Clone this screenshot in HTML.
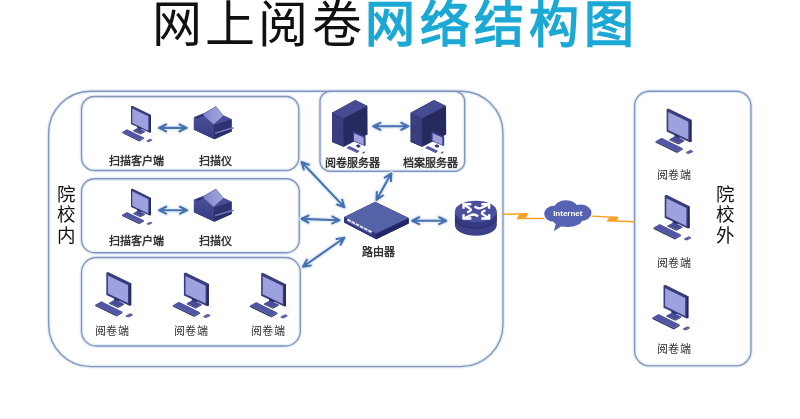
<!DOCTYPE html>
<html lang="zh-CN">
<head>
<meta charset="utf-8">
<style>
html,body{margin:0;padding:0;background:#fff;}
body{width:800px;height:419px;overflow:hidden;position:relative;font-family:"Liberation Sans",sans-serif;}
svg{position:absolute;left:0;top:0;}
.t{position:absolute;white-space:nowrap;line-height:1;color:#333;will-change:transform;}
.lbl{font-size:11px;color:#333;letter-spacing:0px;font-weight:700;}
.big{font-size:18.5px;line-height:20.3px;color:#111;}
</style>
</head>
<body>
<div class="t" id="t1" style="left:152px;top:0px;font-size:50px;font-weight:300;color:#111;letter-spacing:3.2px;">网上阅卷</div>
<div class="t" id="t2" style="left:365px;top:0px;font-size:50px;font-weight:700;color:#1ba8d4;letter-spacing:4.7px;">网络结构图</div>

<svg width="800" height="419" viewBox="0 0 800 419">
<defs>
  <!-- PC icon, local origin = keyboard left / monitor top region -->
  <g id="pc">
    <path d="M35.5,37 C40,36.5 42.5,38.5 40.5,42 C39.5,43.8 38,44.8 36,45.6" fill="none" stroke="#ebebf1" stroke-width="1"/>
    <path d="M11.6,4.2 L13.3,3.4 L36.5,14.8 L36.5,36.4 L34.8,37.2 L11.6,26.4 Z" fill="#393d7e"/>
    <path d="M34.8,15.6 L36.5,14.8 L36.5,36.4 L34.8,37.2 Z" fill="#25285f"/>
    <path d="M13.2,6.9 L33.3,16.7 L33.3,34.6 L13.2,24.9 Z" fill="#9da2de"/>
    <path d="M19.5,29 L24.5,31.4 L24.5,35 L19.5,32.6 Z" fill="#282b66"/>
    <path d="M14.4,34.2 L20.4,31 L29.3,35.2 L23.5,38.4 Z" fill="#474c98"/>
    <path d="M14.4,34.2 L23.5,38.4 L23.5,39.4 L14.4,35.2 Z" fill="#2a2d68"/>
    <path d="M23.5,38.4 L29.3,35.2 L29.3,36.2 L23.5,39.4 Z" fill="#2a2d68"/>
    <path d="M0.5,36.2 L6.6,32.7 L27.8,43.2 L22,46.6 Z" fill="#5056a3"/>
    <path d="M0.5,36.2 L22,46.6 L22,48 L0.5,37.6 Z" fill="#2c2f6c"/>
    <path d="M22,46.6 L27.8,43.2 L27.8,44.6 L22,48 Z" fill="#383c80"/>
    <path d="M31.1,47 L35.6,44.8 L38,46 L33.5,48.2 Z" fill="#575da8"/>
    <path d="M31.1,47 L33.5,48.2 L33.5,49.1 L31.1,47.9 Z" fill="#2c2f6c"/>
    <path d="M33.5,48.2 L38,46 L38,46.9 L33.5,49.1 Z" fill="#383c80"/>
  </g>

  <!-- scanner icon, local origin = (192,102) -->
  <g id="scan">
    <path d="M1.9,15.3 L12.4,11 L23.9,4.3 L31.5,13.4 L39.6,17.2 L39.6,29.6 L22.4,37.2 L1.9,27.7 Z" fill="#2f3270"/>
    <path d="M1.9,15.3 L21.9,22.9 L22.4,37.2 L1.9,27.7 Z" fill="url(#lfg)"/>
    <path d="M21.9,22.9 L39.6,17.2 L39.6,29.6 L22.4,37.2 Z" fill="#2f3270"/>
    <path d="M23,30.6 L39.8,25.2 L41.8,25.4 L41.8,26.4 L23,32.1 Z" fill="#7176bb"/>
    <path d="M23,33 L39.6,27.6 L39.6,28.6 L23,34.1 Z" fill="#24275e"/>
    <path d="M1.9,15.3 L12.4,11 L31.5,13.4 L39.6,17.2 L21.9,22.9 Z" fill="#4a4e98"/>
    <path d="M10.5,12.6 L23.9,4.6 L31.3,13.5 L21.6,22.3 Z" fill="url(#lidg)"/>
    <path d="M3.8,15.6 L10.8,12.7 L12.2,13.5 L5.2,16.3 Z" fill="#23265c"/>
  </g>
  <linearGradient id="lidg" x1="0" y1="0" x2="1" y2="0">
    <stop offset="0" stop-color="#7a7fc6"/><stop offset="0.4" stop-color="#9094d4"/><stop offset="1" stop-color="#a0a4de"/>
  </linearGradient>
  <linearGradient id="lfg" x1="0" y1="0" x2="0" y2="1">
    <stop offset="0" stop-color="#4a4e96"/><stop offset="1" stop-color="#363a80"/>
  </linearGradient>

  <!-- server tower, local origin = (328,96) -->
  <g id="srv">
    <path d="M4,16.7 L27.4,4 L39.4,10 L39.6,38.6 L16,50.8 L4,46.1 Z" fill="#272a5e"/>
    <path d="M4,16.7 L15.4,22.3 L15.6,50.9 L4,46.1 Z" fill="#383c7c"/>
    <path d="M4,16.7 L27.4,4 L39.4,10 L15.4,22.3 Z" fill="#474b92"/>
    <g stroke="#454a8c" stroke-width="0.6">
      <path d="M4.6,21.5 L14.8,26.6"/><path d="M4.6,24 L14.8,29.1"/><path d="M4.6,26.5 L14.8,31.6"/><path d="M4.6,36.5 L14.8,41.6"/><path d="M4.6,40 L14.8,45.1"/>
    </g>
    <!-- small monitor -->
    <path d="M24.6,35.4 L25.6,34.9 L37.6,40.4 L37.6,49.6 L36.8,50 L24.6,45 Z" fill="#363b88"/>
    <path d="M26,37.2 L35.7,41.5 L35.7,49 L26,44.7 Z" fill="#9ea2dc"/>
    <path d="M28.3,49.2 L30.2,48.3 L32.4,49.4 L32.4,50.9 L30.4,51.8 L28.3,50.8 Z" fill="#34387c"/>
    <path d="M18.9,51.5 L21.4,50 L31.7,55 L29.6,56.5 Z" fill="#5258ab"/>
    <path d="M18.9,51.5 L29.6,56.5 L29.6,57.3 L18.9,52.3 Z" fill="#2c3074"/>
    <path d="M34.3,56.6 L36.3,55.4 L37.6,56 L35.6,57.2 Z" fill="#4a4fa2"/>
    <path d="M34.3,56.6 L35.6,57.2 L35.6,57.8 L34.3,57.2 Z" fill="#2c3074"/>
  </g>
</defs>

<!-- Outer box 校内 -->
<g fill="none" stroke="#e6eff9" stroke-width="4"><rect x="48.6" y="91.2" width="454.4" height="275.4" rx="42"/><rect x="81.5" y="96.5" width="217.3" height="74" rx="13"/><rect x="81.5" y="178.7" width="217.8" height="74" rx="13"/><rect x="81.5" y="257.5" width="218.8" height="88.5" rx="15"/><rect x="320" y="91.3" width="144.7" height="79.9" rx="10"/><rect x="634.6" y="91.2" width="116.4" height="274.6" rx="15"/></g>
<g fill="none" stroke="#8495bb" stroke-width="1.35"><rect x="48.6" y="91.2" width="454.4" height="275.4" rx="42"/><rect x="81.5" y="96.5" width="217.3" height="74" rx="13"/><rect x="81.5" y="178.7" width="217.8" height="74" rx="13"/><rect x="81.5" y="257.5" width="218.8" height="88.5" rx="15"/><rect x="320" y="91.3" width="144.7" height="79.9" rx="10"/><rect x="634.6" y="91.2" width="116.4" height="274.6" rx="15"/></g>
<!-- arrows -->
<g stroke="#dce9f6" stroke-width="5" fill="none" stroke-linecap="round" stroke-linejoin="round" opacity="0.8"><path d="M160.2,127.9 L185.4,127.9 M179.6,124.5 L186.6,127.9 L179.6,131.3 M166.0,131.3 L159.0,127.9 L166.0,124.5"/><path d="M160.4,210.2 L185.8,210.2 M180.0,206.8 L187.0,210.2 L180.0,213.6 M166.2,213.6 L159.2,210.2 L166.2,206.8"/><path d="M374.5,126.3 L407.1,126.3 M401.3,122.9 L408.3,126.3 L401.3,129.7 M380.3,129.7 L373.3,126.3 L380.3,122.9"/><path d="M302.6,218.9 L338.2,220.2 M332.5,216.6 L339.4,220.3 L332.3,223.4 M308.3,222.5 L301.4,218.8 L308.5,215.7"/><path d="M413.4,220.7 L445.0,220.7 M439.2,217.3 L446.2,220.7 L439.2,224.1 M419.2,224.1 L412.2,220.7 L419.2,217.3"/><path d="M302.3,162.8 L343.6,206.4 M342.1,199.8 L344.4,207.3 L337.1,204.5 M303.8,169.4 L301.5,161.9 L308.8,164.7"/><path d="M304.0,266.0 L343.4,238.5 M336.7,239.0 L344.4,237.8 L340.6,244.6 M310.7,265.5 L303.0,266.7 L306.8,259.9"/><path d="M390.7,174.3 L377.1,198.9 M382.9,195.5 L376.5,199.9 L376.9,192.1 M384.9,177.7 L391.3,173.3 L390.9,181.1"/></g>
<g stroke="#4571b0" stroke-width="2.1" fill="none" stroke-linecap="round" stroke-linejoin="round"><path d="M160.2,127.9 L185.4,127.9 M179.6,124.5 L186.6,127.9 L179.6,131.3 M166.0,131.3 L159.0,127.9 L166.0,124.5"/><path d="M160.4,210.2 L185.8,210.2 M180.0,206.8 L187.0,210.2 L180.0,213.6 M166.2,213.6 L159.2,210.2 L166.2,206.8"/><path d="M374.5,126.3 L407.1,126.3 M401.3,122.9 L408.3,126.3 L401.3,129.7 M380.3,129.7 L373.3,126.3 L380.3,122.9"/><path d="M302.6,218.9 L338.2,220.2 M332.5,216.6 L339.4,220.3 L332.3,223.4 M308.3,222.5 L301.4,218.8 L308.5,215.7"/><path d="M413.4,220.7 L445.0,220.7 M439.2,217.3 L446.2,220.7 L439.2,224.1 M419.2,224.1 L412.2,220.7 L419.2,217.3"/><path d="M302.3,162.8 L343.6,206.4 M342.1,199.8 L344.4,207.3 L337.1,204.5 M303.8,169.4 L301.5,161.9 L308.8,164.7"/><path d="M304.0,266.0 L343.4,238.5 M336.7,239.0 L344.4,237.8 L340.6,244.6 M310.7,265.5 L303.0,266.7 L306.8,259.9"/><path d="M390.7,174.3 L377.1,198.9 M382.9,195.5 L376.5,199.9 L376.9,192.1 M384.9,177.7 L391.3,173.3 L390.9,181.1"/></g>

<!-- PCs -->
<use href="#pc" transform="translate(121.7,103) scale(0.8)"/>
<use href="#pc" transform="translate(121.7,185.8) scale(0.8)"/>
<use href="#pc" transform="translate(94.7,268.5)"/>
<use href="#pc" transform="translate(172.3,269)"/>
<use href="#pc" transform="translate(249.5,269.4)"/>
<use href="#pc" transform="translate(655,105)"/>
<use href="#pc" transform="translate(653.1,191.4)"/>
<use href="#pc" transform="translate(651.9,281.4)"/>

<!-- scanners -->
<use href="#scan" transform="translate(192,102)"/>
<use href="#scan" transform="translate(192,184.5)"/>

<!-- servers -->
<use href="#srv" transform="translate(328,96)"/>
<use href="#srv" transform="translate(406.6,96)"/>

<!-- router/switch -->
<g>
  <path d="M344.2,216.9 L375.2,201.7 L408.7,217.9 L408.7,223.5 L376.2,239.2 L344.2,222.5 Z" fill="#262c6c"/>
  <path d="M344.2,216.9 L376.2,233.6 L376.2,239.2 L344.2,222.5 Z" fill="#2e3580"/>
  <path d="M376.2,233.6 L408.7,217.9 L408.7,223.5 L376.2,239.2 Z" fill="#222866"/>
  <path d="M344.2,216.9 L375.2,201.7 L408.7,217.9 L376.2,233.6 Z" fill="#5463a8"/>
  <path d="M347.3,219.5 L372,232.4" stroke="#e4e6f6" stroke-width="2" stroke-dasharray="4 0.7"/>
  <path d="M347.5,221.2 L371.5,233.8" stroke="#8e93c8" stroke-width="0.6"/>
</g>
<!-- round router -->
<g>
  <path d="M454.9,211.5 L454.9,225.3 A20.95,10.5 0 0 0 496.8,225.3 L496.8,211.5 Z" fill="#3d4189"/>
  <path d="M455,214 L455,219.3 A20.95,10.6 0 0 0 496.7,219.3 L496.7,214 Z" fill="#363a80"/>
  <path d="M455.2,219.4 A20.95,10.6 0 0 0 496.5,219.4" fill="none" stroke="#2c2f6e" stroke-width="1.2"/>
  <ellipse cx="475.85" cy="211.5" rx="20.95" ry="10.8" fill="#4b509e"/>
<path d="M471.35,204.32 L463.56,204.32 L463.56,208.63" fill="none" stroke="#fff" stroke-width="2.4" stroke-linejoin="miter"/>
<path d="M464.12,204.78 L469.40,208.17 Q473.01,210.32 467.18,212.40" fill="none" stroke="#fff" stroke-width="2.3" stroke-linecap="butt"/>
<path d="M489.14,208.63 L489.14,204.32 L481.35,204.32" fill="none" stroke="#fff" stroke-width="2.4" stroke-linejoin="miter"/>
<path d="M488.30,204.62 L482.19,207.55 Q478.30,209.55 474.54,206.32" fill="none" stroke="#fff" stroke-width="2.3" stroke-linecap="butt"/>
<path d="M481.35,218.48 L489.14,218.48 L489.14,214.17" fill="none" stroke="#fff" stroke-width="2.4" stroke-linejoin="miter"/>
<path d="M488.58,218.02 L483.30,214.63 Q479.69,212.48 485.52,210.40" fill="none" stroke="#fff" stroke-width="2.3" stroke-linecap="butt"/>
<path d="M463.56,214.17 L463.56,218.48 L471.35,218.48" fill="none" stroke="#fff" stroke-width="2.4" stroke-linejoin="miter"/>
<path d="M464.40,218.18 L470.51,215.25 Q474.40,213.25 478.16,216.48" fill="none" stroke="#fff" stroke-width="2.3" stroke-linecap="butt"/>

</g>
<!-- lightning -->
<g fill="#f5a01e" stroke="#f5a01e">
  <path d="M503.5,214.3 L527,213.8" stroke-width="1.4" fill="none"/>
  <path d="M517.5,218.5 L544.5,218.5" stroke-width="1.4" fill="none"/>
  <path d="M519.5,214.6 L528.2,213.2 L526,217.3 L516.8,219.2 Z" stroke-width="0.4"/>
  <path d="M591.5,216.1 L618,217.4" stroke-width="1.4" fill="none"/>
  <path d="M607.4,220.8 L634.5,221.8" stroke-width="1.4" fill="none"/>
  <path d="M609.3,217.3 L618.4,217.3 L616.8,220.3 L607.2,221.3 Z" stroke-width="0.4"/>
</g>
<!-- cloud -->
<g fill="#5663b2">
  <ellipse cx="554" cy="213.8" rx="9.8" ry="8"/>
  <ellipse cx="566" cy="208.5" rx="12" ry="8.3"/>
  <ellipse cx="580.5" cy="212.8" rx="11" ry="8.3"/>
  <ellipse cx="567.5" cy="219" rx="15" ry="8"/>
  <path d="M556,223 L553.8,231.3 L562.5,225.5 Z"/>
</g>
<text x="567.8" y="216.2" text-anchor="middle" font-family="Liberation Sans, sans-serif" font-weight="bold" font-size="8" fill="#fff">Internet</text>
</svg>

<!-- labels -->
<div class="t lbl" id="L1" style="left:108.6px;top:156px;">扫描客户端</div>
<div class="t lbl" id="L2" style="left:198.6px;top:155.5px;">扫描仪</div>
<div class="t lbl" id="L3" style="left:108.6px;top:236px;">扫描客户端</div>
<div class="t lbl" id="L4" style="left:198.6px;top:235.5px;">扫描仪</div>
<div class="t lbl" id="L5" style="font-weight:500;color:#2e2e2e;letter-spacing:0.3px;left:95px;top:326px;">阅卷端</div>
<div class="t lbl" id="L6" style="font-weight:500;color:#2e2e2e;letter-spacing:0.3px;left:174px;top:326px;">阅卷端</div>
<div class="t lbl" id="L7" style="font-weight:500;color:#2e2e2e;letter-spacing:0.3px;left:251px;top:326px;">阅卷端</div>
<div class="t lbl" id="L8" style="left:325px;top:158px;">阅卷服务器</div>
<div class="t lbl" id="L9" style="left:403.3px;top:158px;">档案服务器</div>
<div class="t lbl" id="L10" style="left:361.8px;top:247px;">路由器</div>
<div class="t lbl" id="L11" style="font-weight:500;color:#2e2e2e;letter-spacing:0.3px;left:657px;top:169.5px;">阅卷端</div>
<div class="t lbl" id="L12" style="font-weight:500;color:#2e2e2e;letter-spacing:0.3px;left:657px;top:257.5px;">阅卷端</div>
<div class="t lbl" id="L13" style="font-weight:500;color:#2e2e2e;letter-spacing:0.3px;left:657px;top:344px;">阅卷端</div>
<div class="t big" id="B1" style="left:56.5px;top:185px;">院<br>校<br>内</div>
<div class="t big" id="B2" style="left:715.8px;top:185px;">院<br>校<br>外</div>
</body>
</html>
